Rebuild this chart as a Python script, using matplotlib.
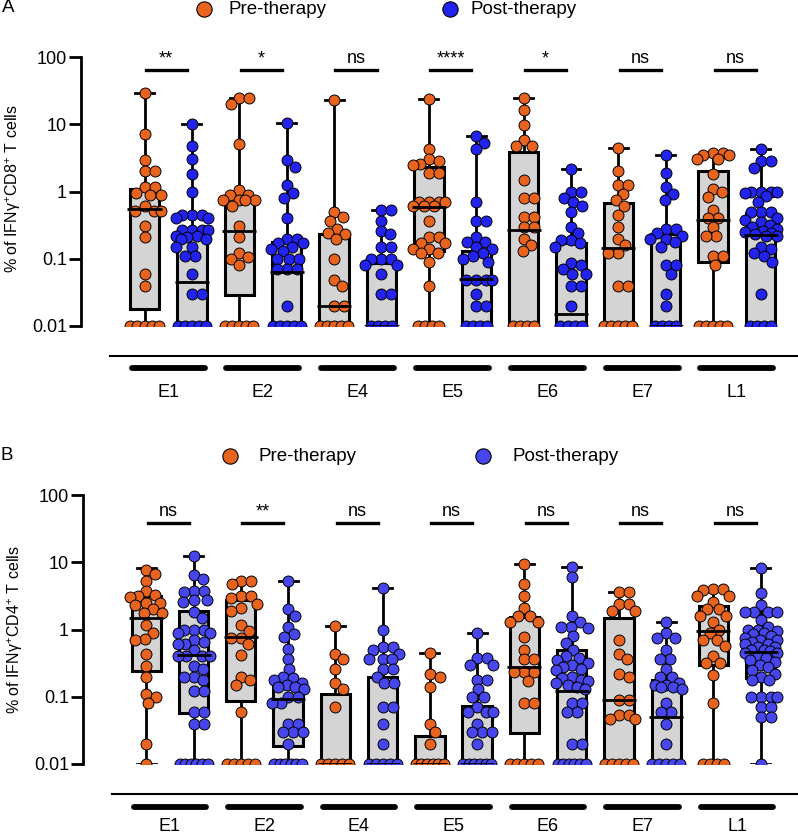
import numpy as np
import matplotlib
matplotlib.use("Agg")
import matplotlib.pyplot as plt
from matplotlib.ticker import NullLocator

plt.rcParams['font.family'] = ['Liberation Sans', 'DejaVu Sans']
plt.rcParams['mathtext.fontset'] = 'custom'
plt.rcParams['mathtext.rm'] = 'Liberation Sans'

groups = ['E1', 'E2', 'E4', 'E5', 'E6', 'E7', 'L1']
Z = 0.01  # zero values sit on the bottom of the axis

# ---- panel A: IFNg+ CD8+ ----
cd8_pre = [
    [29, 7.1, 2.9, 2.0, 2.0, 1.15, 1.15, 0.95, 0.9, 0.9, 0.6, 0.52, 0.52, 0.52, 0.31, 0.21, 0.059, 0.04] + [Z]*5,
    [24.5, 24.5, 20, 5.1, 1.06, 0.9, 0.9, 0.75, 0.75, 0.75, 0.75, 0.6, 0.31, 0.21, 0.12, 0.106, 0.1, 0.08] + [Z]*5,
    [23, 0.49, 0.42, 0.36, 0.28, 0.24, 0.23, 0.2, 0.1, 0.049, 0.04, 0.02, 0.02] + [Z]*5,
    [23.7, 4.3, 3.0, 2.8, 2.6, 2.5, 1.9, 1.9, 0.69, 0.69, 0.69, 0.69, 0.6, 0.6, 0.6, 0.37, 0.21, 0.21,
     0.17, 0.17, 0.14, 0.14, 0.12, 0.12, 0.089, 0.04] + [Z]*4,
    [24.5, 16.4, 9.6, 5.8, 4.8, 4.8, 1.5, 0.8, 0.8, 0.42, 0.42, 0.3, 0.3, 0.2, 0.16, 0.13] + [Z]*4,
    [4.4, 2.0, 1.24, 1.24, 0.93, 0.74, 0.6, 0.45, 0.3, 0.2, 0.16, 0.12, 0.12, 0.04, 0.04] + [Z]*5,
    [3.7, 3.7, 3.5, 3.5, 3.0, 3.0, 1.8, 1.1, 0.97, 0.83, 0.53, 0.4, 0.4, 0.3, 0.22, 0.22, 0.11, 0.11, 0.08] + [Z]*5,
]
cd8_post = [
    [10, 4.8, 3.0, 1.85, 0.99, 0.45, 0.45, 0.45, 0.4, 0.4, 0.27, 0.27, 0.27, 0.27, 0.22, 0.22, 0.21, 0.2, 0.2,
     0.15, 0.15, 0.11, 0.11, 0.059, 0.03, 0.03] + [Z]*5,
    [10.4, 2.9, 2.35, 1.24, 0.95, 0.8, 0.4, 0.2, 0.2, 0.17, 0.17, 0.15, 0.14, 0.13, 0.1, 0.1, 0.1, 0.07, 0.07,
     0.07, 0.02] + [Z]*5,
    [0.53, 0.53, 0.37, 0.26, 0.23, 0.15, 0.15, 0.1, 0.1, 0.1, 0.08, 0.08, 0.06, 0.03, 0.03] + [Z]*4,
    [6.6, 5.3, 4.3, 0.69, 0.36, 0.36, 0.21, 0.18, 0.18, 0.15, 0.14, 0.12, 0.11, 0.1, 0.09, 0.049, 0.049, 0.049,
     0.049, 0.03, 0.02, 0.02] + [Z]*4,
    [2.15, 1.0, 1.0, 0.8, 0.69, 0.6, 0.49, 0.3, 0.24, 0.19, 0.19, 0.17, 0.15, 0.085, 0.08, 0.07, 0.06, 0.06,
     0.04, 0.04, 0.02] + [Z]*4,
    [3.5, 1.9, 1.17, 0.91, 0.74, 0.28, 0.28, 0.24, 0.22, 0.2, 0.2, 0.18, 0.15, 0.08, 0.08, 0.06, 0.03, 0.02] + [Z]*4,
    [4.3, 2.8, 2.8, 2.2, 1.0, 1.0, 1.0, 1.0, 0.95, 0.85, 0.69, 0.5, 0.5, 0.5, 0.4, 0.38, 0.35, 0.32, 0.3, 0.28,
     0.26, 0.25, 0.24, 0.23, 0.22, 0.22, 0.15, 0.14, 0.12, 0.11, 0.089, 0.03] + [Z]*4,
]
# (min, q1, median, q3, max)
cd8_pre_box = [(Z, 0.018, 0.55, 1.08, 29), (Z, 0.029, 0.26, 0.84, 24.5), (Z, Z, 0.02, 0.23, 23),
               (Z, 0.13, 0.58, 2.3, 23.7), (Z, Z, 0.27, 3.9, 24.5), (Z, Z, 0.143, 0.67, 4.4),
               (Z, 0.089, 0.38, 2.0, 3.7)]
cd8_post_box = [(Z, Z, 0.045, 0.23, 10), (Z, Z, 0.064, 0.18, 10.4), (Z, Z, Z, 0.086, 0.53),
                (Z, Z, 0.05, 0.13, 6.6), (Z, Z, 0.015, 0.17, 2.15), (Z, Z, Z, 0.23, 3.5),
                (Z, Z, 0.224, 0.48, 4.3)]
cd8_sig = ['**', '*', 'ns', '****', '*', 'ns', 'ns']

# ---- panel B: IFNg+ CD4+ ----
cd4_pre = [
    [7.8, 6.8, 5.2, 3.7, 3.3, 3.1, 3.0, 2.5, 2.5, 2.3, 2.0, 1.75, 1.75, 1.15, 0.9, 0.73, 0.7, 0.43, 0.29, 0.2,
     0.11, 0.1, 0.08, 0.02] + [Z]*1,
    [5.3, 5.3, 4.7, 3.1, 3.1, 2.9, 2.4, 2.1, 1.9, 1.15, 0.95, 0.75, 0.75, 0.6, 0.42, 0.2, 0.18, 0.15, 0.06] + [Z]*5,
    [1.14, 0.43, 0.36, 0.26, 0.16, 0.13, 0.07] + [Z]*5,
    [0.44, 0.22, 0.2, 0.14, 0.04, 0.03, 0.02] + [Z]*6,
    [9.4, 4.7, 3.1, 2.1, 1.6, 1.6, 1.3, 1.3, 0.77, 0.5, 0.36, 0.36, 0.23, 0.23, 0.23, 0.17, 0.08, 0.08] + [Z]*5,
    [3.65, 3.65, 2.4, 2.4, 1.9, 1.9, 0.7, 0.43, 0.36, 0.22, 0.2, 0.09, 0.09, 0.053, 0.053, 0.046, 0.046] + [Z]*5,
    [4.0, 4.0, 3.9, 3.2, 3.2, 2.6, 2.0, 2.0, 1.6, 1.6, 1.3, 1.0, 0.9, 0.7, 0.7, 0.57, 0.4, 0.32, 0.32, 0.21,
     0.08] + [Z]*4,
]
cd4_post = [
    [12.4, 6.4, 5.6, 3.8, 3.7, 3.6, 2.7, 2.7, 2.6, 1.8, 1.5, 1.0, 1.0, 1.0, 0.9, 0.9, 0.7, 0.65, 0.6, 0.6, 0.5,
     0.41, 0.41, 0.41, 0.4, 0.29, 0.26, 0.2, 0.2, 0.18, 0.12, 0.12, 0.06, 0.06, 0.04, 0.04] + [Z]*6,
    [5.2, 2.0, 1.6, 1.1, 0.85, 0.77, 0.51, 0.36, 0.26, 0.2, 0.19, 0.18, 0.16, 0.15, 0.14, 0.14, 0.13, 0.1, 0.1,
     0.08, 0.08, 0.04, 0.04, 0.03, 0.03, 0.03, 0.02] + [Z]*6,
    [4.2, 0.98, 0.55, 0.55, 0.5, 0.43, 0.37, 0.37, 0.37, 0.26, 0.26, 0.2, 0.16, 0.16, 0.07, 0.07, 0.04,
     0.02] + [Z]*5,
    [0.88, 0.38, 0.38, 0.3, 0.3, 0.18, 0.18, 0.13, 0.1, 0.1, 0.07, 0.06, 0.06, 0.06, 0.04, 0.03, 0.03, 0.03,
     0.02] + [Z]*6,
    [8.6, 6.1, 1.6, 1.3, 1.1, 1.1, 1.05, 0.8, 0.64, 0.5, 0.4, 0.38, 0.35, 0.32, 0.3, 0.28, 0.26, 0.25, 0.2, 0.19,
     0.18, 0.17, 0.16, 0.15, 0.14, 0.13, 0.08, 0.08, 0.06, 0.06, 0.02, 0.02] + [Z]*6,
    [1.28, 0.88, 0.75, 0.75, 0.5, 0.37, 0.37, 0.26, 0.2, 0.2, 0.16, 0.15, 0.15, 0.14, 0.14, 0.13, 0.08, 0.06,
     0.06, 0.04, 0.02] + [Z]*5,
    [8.1, 3.5, 2.3, 1.8, 1.8, 1.8, 1.8, 1.4, 1.1, 1.0, 1.0, 0.95, 0.9, 0.85, 0.8, 0.75, 0.7, 0.7, 0.65, 0.6,
     0.6, 0.55, 0.55, 0.5, 0.5, 0.48, 0.45, 0.45, 0.4, 0.38, 0.35, 0.33, 0.3, 0.28, 0.25, 0.22, 0.2, 0.18,
     0.18, 0.1, 0.1, 0.1, 0.1, 0.07, 0.07, 0.05, 0.05] + [Z]*1,
]
cd4_pre_box = [(Z, 0.24, 1.48, 3.1, 8.1), (Z, 0.085, 0.77, 2.75, 5.4), (Z, Z, Z, 0.11, 1.14),
               (Z, Z, Z, 0.026, 0.44), (Z, 0.029, 0.28, 1.55, 9.4), (Z, Z, 0.09, 1.5, 3.65),
               (Z, 0.3, 0.96, 2.2, 4.1)]
cd4_post_box = [(Z, 0.057, 0.42, 1.9, 12.4), (Z, 0.0185, 0.093, 0.17, 5.2), (Z, Z, Z, 0.2, 4.2),
                (Z, Z, Z, 0.073, 0.88), (Z, Z, 0.12, 0.5, 8.6), (Z, Z, 0.05, 0.18, 1.28),
                (Z, 0.19, 0.46, 0.91, 8.1)]
cd4_sig = ['ns', '**', 'ns', 'ns', 'ns', 'ns', 'ns']

ORANGE = '#E8641E'
BLUE_A = '#2323F0'
BLUE_B = '#4646EC'
PX_X = 47.35   # pixels per box slot
PX_DEC = 67.2  # pixels per decade


def swarm(values, d=9.5, half=16.0):
    # simple beeswarm offsets, in slot units
    vals = np.asarray(values, float)
    offs = np.zeros(len(vals))
    zero = vals <= Z * 1.0001
    nz = int(zero.sum())
    if nz > 1:
        w = min((nz - 1) * 7.0, 28.0)
        offs[zero] = np.linspace(-w / 2, w / 2, nz)
    idx = np.where(~zero)[0]
    order = idx[np.argsort(-vals[idx], kind='stable')]
    cands = []
    for k in np.arange(0, half + 0.1, 1.0):
        cands += [k, -k] if k else [0.0]
    placed = []
    for i in order:
        y = np.log10(vals[i]) * PX_DEC
        best, bestd = 0.0, -1
        for c in cands:
            mind = min((np.hypot(c - px, y - py) for px, py in placed), default=1e9)
            if mind >= d:
                best = c
                break
            if mind > bestd:
                bestd, best = mind, c
        offs[i] = best
        placed.append((best, y))
    return offs / PX_X


def panel(ax, pre, post, pre_box, post_box, sig, blue, sig_y, line_y, grp_y, lab_y):
    stats = []
    pos = []
    cols = []
    data = []
    for i in range(len(groups)):
        for j, (bx, vals, c) in enumerate([(pre_box[i], pre[i], ORANGE), (post_box[i], post[i], blue)]):
            lo, q1, med, q3, hi = bx
            stats.append(dict(whislo=lo, q1=q1, med=med, q3=q3, whishi=hi))
            pos.append(2 * i + j)
            cols.append(c)
            data.append(vals)
    bp = ax.bxp(stats, positions=pos, widths=0.62, capwidths=0.4, showfliers=False,
                patch_artist=True,
                boxprops=dict(facecolor='#d4d4d4', edgecolor='black', linewidth=2.2),
                medianprops=dict(color='black', linewidth=2.0),
                whiskerprops=dict(color='black', linewidth=2.0),
                capprops=dict(color='black', linewidth=2.0))
    for b in bp['boxes']:
        b.set_zorder(2)
    for m in bp['medians']:
        m.set_zorder(4)
        xs = m.get_xdata()
        m.set_xdata([xs[0] - 0.05, xs[1] + 0.05])
    for p, vals, c in zip(pos, data, cols):
        xo = swarm(vals)
        ax.scatter(p + xo, vals, s=62, color=c, edgecolors='black', linewidths=0.7, zorder=3)

    ax.set_yscale('log')
    ax.set_ylim(0.01, 100)
    ax.set_xlim(-1.34, 13.79)
    ax.set_yticks([0.01, 0.1, 1, 10, 100])
    ax.set_yticklabels(['0.01', '0.1', '1', '10', '100'])
    ax.yaxis.set_minor_locator(NullLocator())
    ax.set_xticks([])
    for s in ['top', 'right', 'bottom']:
        ax.spines[s].set_visible(False)
    ax.spines['left'].set_linewidth(2.0)
    ax.tick_params(axis='y', length=8.5, width=2.0, labelsize=13, pad=1.5)
    ax.patch.set_alpha(0)

    tr = ax.get_xaxis_transform()
    ax.plot([-0.73, 13.79], [line_y, line_y], color='black', lw=1.5, transform=tr, clip_on=False)
    for i, g in enumerate(groups):
        c = 2 * i + 0.5
        ax.plot([c - 0.77, c + 0.77], [grp_y, grp_y], color='black', lw=4.2,
                solid_capstyle='round', transform=tr, clip_on=False)
        ax.text(c, lab_y, g, ha='center', va='center', fontsize=13, transform=tr)
        ax.plot([c - 0.47, c + 0.40], [sig_y, sig_y], color='black', lw=2.4, transform=tr, clip_on=False)
        ax.text(c - 0.04, sig_y + 0.01, sig[i], ha='center', va='bottom', fontsize=13, transform=tr)


W, H = 798, 834
fig = plt.figure(figsize=(W / 100, H / 100), dpi=100)

axA = fig.add_axes([81 / W, 1 - 326 / H, (W - 81) / W, 269 / H])
panel(axA, cd8_pre, cd8_post, cd8_pre_box, cd8_post_box, cd8_sig, BLUE_A,
      sig_y=0.952, line_y=-0.1115, grp_y=-0.156, lab_y=-0.249)
axB = fig.add_axes([83 / W, 1 - 764 / H, (W - 83) / W, 269 / H])
panel(axB, cd4_pre, cd4_post, cd4_pre_box, cd4_post_box, cd4_sig, BLUE_B,
      sig_y=0.896, line_y=-0.1115, grp_y=-0.160, lab_y=-0.234)

# legends, panel letters, y labels (figure pixel coordinates)
def fx(px):
    return px / W


def fy(py):
    return 1 - py / H


for (mx, my, tx, lab, c) in [(204, 9, 229, 'Pre-therapy', ORANGE), (450, 9, 471, 'Post-therapy', BLUE_A),
                             (230, 456, 258, 'Pre-therapy', ORANGE), (483, 456, 512, 'Post-therapy', BLUE_B)]:
    fig.add_artist(matplotlib.lines.Line2D([fx(mx)], [fy(my)], marker='o', markersize=11,
                                           markerfacecolor=c, markeredgecolor='black', markeredgewidth=0.8,
                                           transform=fig.transFigure))
    fig.text(fx(tx), fy(my), lab, ha='left', va='center', fontsize=13.5)

fig.text(fx(2), fy(8), 'A', ha='left', va='center', fontsize=13.5)
fig.text(fx(0), fy(455), 'B', ha='left', va='center', fontsize=13.5)
fig.text(fx(13), fy(189), '% of IFNγ$^{+}$CD8$^{+}$ T cells', rotation=90, ha='center', va='center',
         fontsize=11.5)
fig.text(fx(15), fy(630), '% of IFNγ$^{+}$CD4$^{+}$ T cells', rotation=90, ha='center', va='center',
         fontsize=11.5)

fig.savefig('out.png', dpi=100)
